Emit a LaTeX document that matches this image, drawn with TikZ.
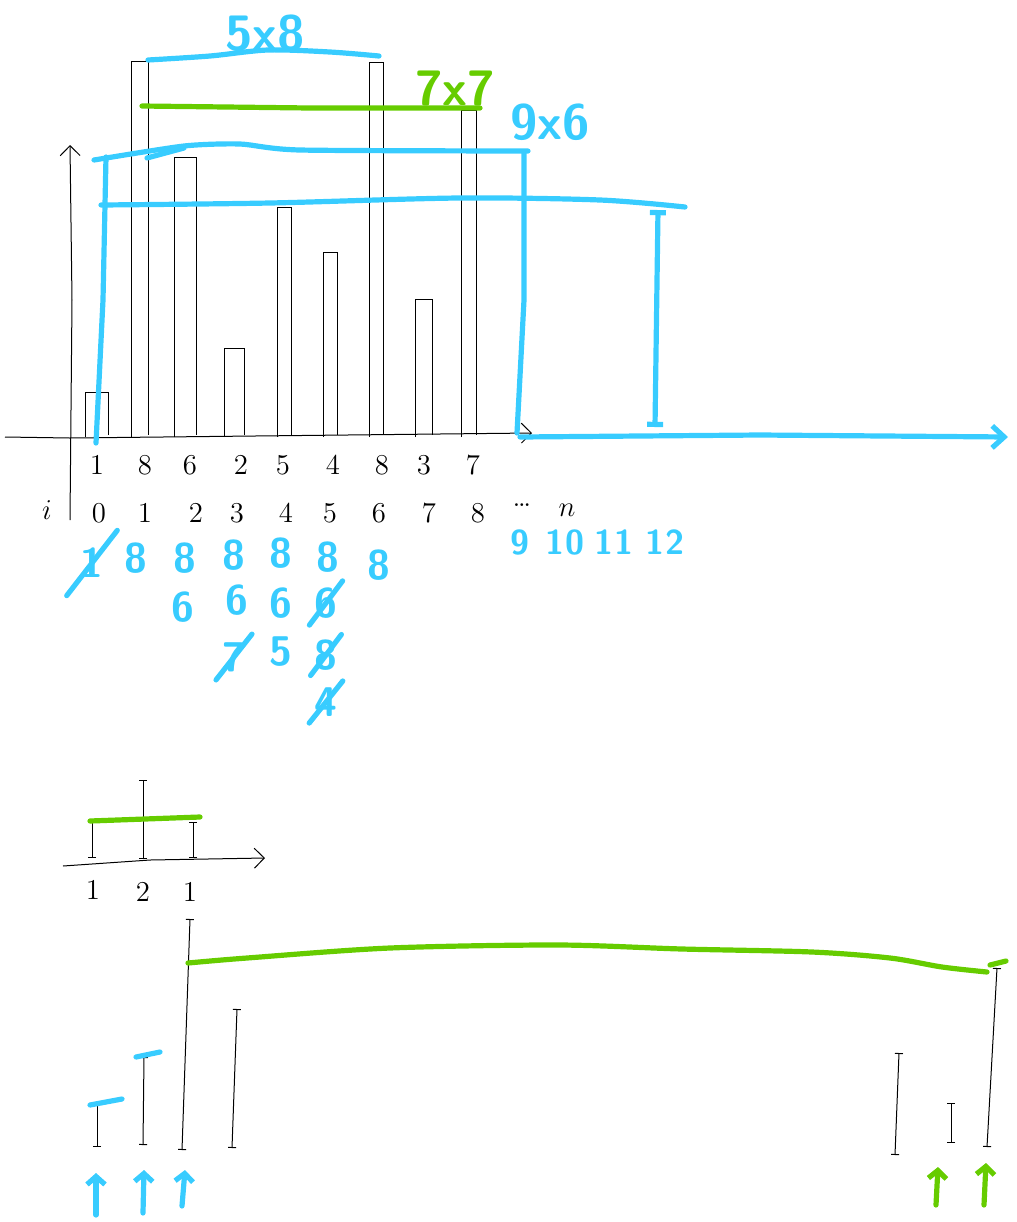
\documentclass[tikz,border=0pt]{standalone}
\usepackage{xcolor}
\usetikzlibrary{arrows.meta}

\definecolor{skyblue}{RGB}{56,204,255}
\definecolor{limegreen}{RGB}{102,204,0}

\begin{document}
\begin{tikzpicture}[x=0.5pt, y=-0.5pt,
    pen/.style={black, line width=0.5pt},
    bluepen/.style={skyblue, line width=2.6pt, line cap=round, line join=round},
    greenpen/.style={limegreen, line width=2.6pt, line cap=round, line join=round},
    barb/.style={-{Straight Barb[length=5pt, width=10pt]}},
    serif/.style={{Bar[width=4pt]}-{Bar[width=4pt]}},
    digit/.style={font=\Large, inner sep=1pt},
    bluedigit/.style={skyblue, font=\Huge\sffamily\bfseries, inner sep=1pt},
    stackdigit/.style={skyblue, font=\huge\sffamily\bfseries, inner sep=0pt},
    strike/.style={bluepen, shorten <=-#1, shorten >=-#1}]

    \useasboundingbox (0,0) rectangle (1017,1222);

    % Axes of the histogram
    \draw[pen, barb] (70,520) -- (72,300) -- (70,145);
    \draw[pen, barb] (5,437) -- (70,438) -- (532,433);

    % Bars
    \foreach \xa/\xb/\h in {85/108/392, 131/148/61, 174/196/157, 224/244/348, 277/291/207,
                            323/337/252, 369/383/62, 415/432/299, 461/476/110}
        \draw[pen] (\xa,437) -- (\xa,\h) -- (\xb,\h) -- (\xb,435);

    % Heights and indices
    \foreach \x/\v [count=\k] in {97/1, 145/8, 190/6, 241/2, 283/5, 333/4, 382/8, 424/3, 473/7}
        \node[digit] (h\k) at (\x,465) {\v};
    \foreach \x/\v in {99/0, 145/1, 196/2, 237/3, 286/4, 330/5, 379/6, 429/7, 478/8}
        \node[digit] (i\v) at (\x,513) {\v};
    \node[digit] (ilabel) at (47,510) {$i$};
    \node[digit] (idots) at (522,505) {\ldots};
    \node[digit] (in) at (567,510) {$n$};
    \foreach \x/\v in {520/9, 565/10, 614/11, 665/12}
        \node[bluedigit, font=\LARGE\sffamily\bfseries] (e\v) at (\x,542) {\v};

    % Stack per index
    \node[stackdigit] (s01) at (92,563) {1};
    \node[stackdigit] (s11) at (136,558) {8};
    \node[stackdigit] (s21) at (185,558) {8};
    \node[stackdigit] (s22) at (183,607) {6};
    \node[stackdigit] (s31) at (234,555) {8};
    \node[stackdigit] (s32) at (237,600) {6};
    \node[stackdigit] (s33) at (234,657) {7};
    \node[stackdigit] (s41) at (281,553) {8};
    \node[stackdigit] (s42) at (281,603) {6};
    \node[stackdigit] (s43) at (281,652) {5};
    \node[stackdigit] (s51) at (328,557) {8};
    \node[stackdigit] (s52) at (326,603) {6};
    \node[stackdigit] (s53) at (326,655) {8};
    \node[stackdigit] (s54) at (326,702) {4};
    \node[stackdigit] (s61) at (379,565) {8};
    \foreach \n/\e in {s01/11pt, s33/5pt, s52/4pt, s53/3pt, s54/4pt}
        \draw[strike=\e] (\n.south west) -- (\n.north east);

    % Rectangles
    \draw[bluepen] plot[smooth] coordinates {(148,60) (210,56) (268,50) (330,52) (379,56)};
    \node[bluedigit] (lab58) at (265,33) {5x8};
    \draw[greenpen] (142,106) -- (310,108) -- (480,108);
    \node[bluedigit, limegreen] (lab77) at (455,88) {7x7};
    \draw[bluepen] plot[smooth, tension=0.4] coordinates {(94,160) (184,146) (240,144) (300,150) (528,151)};
    \draw[bluepen] (147,158) -- (184,148);
    \draw[bluepen] (106,157) -- (103,300) -- (96,443);
    \draw[bluepen] (524,152) -- (524,300) -- (517,433);
    \node[bluedigit] (lab96) at (550,122) {9x6};
    \draw[bluepen] plot[smooth] coordinates {(101,205) (270,203) (459,198) (600,200) (685,207)};
    \draw[bluepen, {Bar[width=8pt]}-{Bar[width=8pt]}] (658,210) -- (655,427);
    \draw[bluepen, -{Straight Barb[length=6pt, width=11pt]}] (520,437) -- (760,435) -- (1008,437);

    % Small example
    \draw[pen, barb] (63,866) -- (150,860) -- (265,858);
    \draw[pen, serif] (92,858) -- (92,822);
    \draw[pen, serif] (143,859) -- (143,780);
    \draw[pen, serif] (193,858) -- (193,822);
    \draw[greenpen] (90,821) -- (200,817);
    \node[digit] (c1) at (93,890) {1};
    \node[digit] (c2) at (143,892) {2};
    \node[digit] (c3) at (190,892) {1};

    % Two pointers
    \foreach \xa/\ya/\xb/\yb in {97/1147/97/1102, 143/1145/144/1057, 182/1150/190/919, 232/1148/237/1009,
                                895/1155/899/1053, 951/1143/951/1103, 987/1147/997/968}
        \draw[pen, serif] (\xa,\ya) -- (\xb,\yb);
    \draw[bluepen] (90,1105) -- (122,1099);
    \draw[bluepen] (136,1057) -- (160,1052);
    \draw[greenpen] plot[smooth] coordinates {(188,963) (247,958) (390,948) (558,945) (682,949)
                                               (812,952) (890,958) (942,967) (987,972)};
    \draw[greenpen] (990,965) -- (1006,961);
    \foreach \xa/\ya/\xb/\yb in {96/1215/96/1173, 143/1213/144/1170, 182/1206/185/1170}
        \draw[bluepen, -{Straight Barb[length=4pt, width=9pt]}] (\xa,\ya) -- (\xb,\yb);
    \foreach \xa/\ya/\xb/\yb in {936/1205/938/1167, 984/1205/986/1163}
        \draw[greenpen, -{Straight Barb[length=4pt, width=9pt]}] (\xa,\ya) -- (\xb,\yb);
\end{tikzpicture}
\end{document}
